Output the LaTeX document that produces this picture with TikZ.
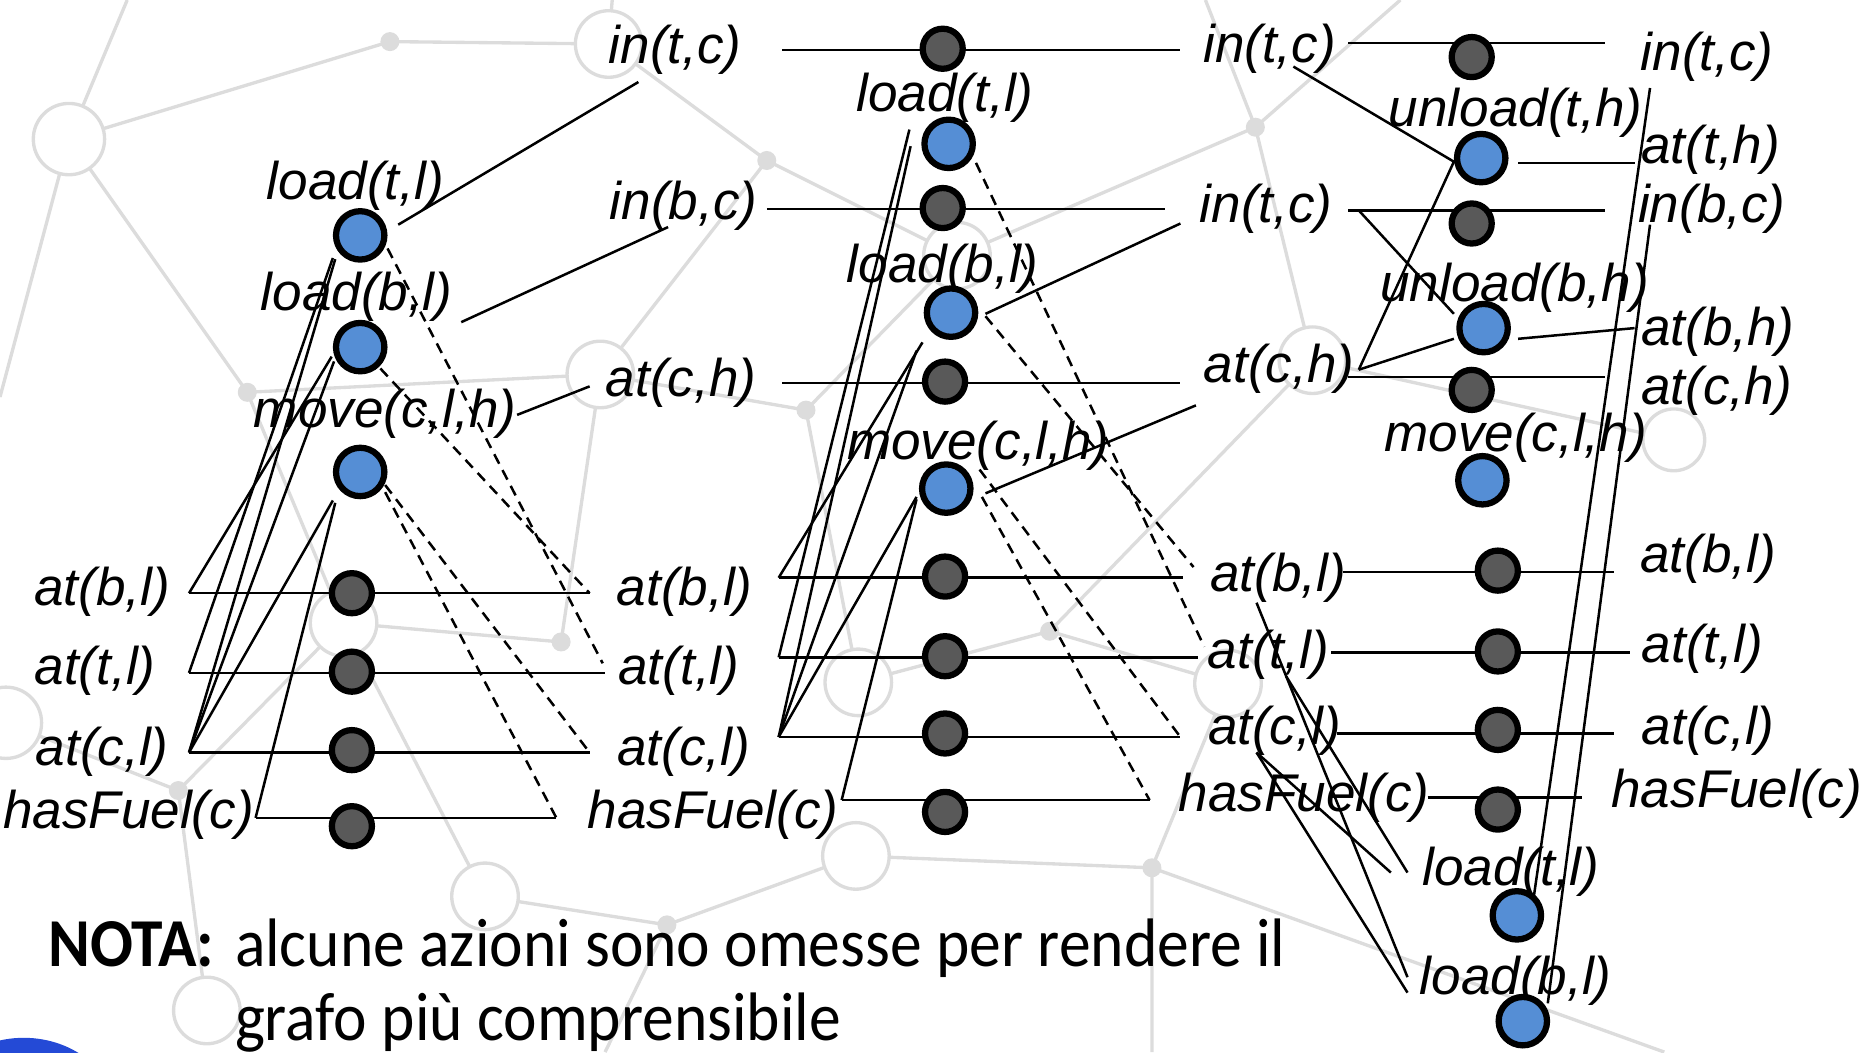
\documentclass[tikz,border=0pt]{standalone}
\usepackage{fontspec}
\setmainfont{Liberation Sans}
\newfontfamily\notefont{Carlito}
\usetikzlibrary{calc}

\pgfdeclarelayer{net}
\pgfdeclarelayer{wires}
\pgfsetlayers{net,wires,main}

\definecolor{actblue}{RGB}{85,142,213}
\definecolor{noopgray}{RGB}{89,89,89}
\definecolor{netgray}{RGB}{220,220,220}
\definecolor{blobblue}{RGB}{36,74,214}

\tikzset{
  lit/.style={font=\fontsize{12.7}{15}\selectfont\itshape, inner sep=0pt},
  act/.style={circle, draw=black, line width=1.5pt, fill=actblue, minimum size=4.07mm, inner sep=0pt},
  noop/.style={circle, draw=black, line width=1.5pt, fill=noopgray, minimum size=3.37mm, inner sep=0pt},
  wire/.style={line width=0.6pt},
  del/.style={wire, dash pattern=on 0.9mm off 0.6mm},
  netline/.style={draw=netgray, line width=0.8pt},
  netring/.style={draw=netgray, fill=white, line width=0.8pt},
  netdot/.style={fill=netgray},
  note/.style={font=\notefont\fontsize{15.2}{18}\selectfont, inner sep=0pt, anchor=base west},
}
\newcommand{\tallnote}[1]{\scalebox{1}[1.08]{#1}}

\begin{document}
\begin{tikzpicture}[x=0.1mm,y=-0.1mm]
\useasboundingbox (0,0) rectangle (1568,885);

% ---------------- faint network backdrop
\begin{pgfonlayer}{net}
\begin{scope}
\clip (0,0) rectangle (1568,885);
\coordinate (C1) at (58,117);   \coordinate (D1) at (328,35);
\coordinate (C2) at (512,37);   \coordinate (D2) at (645,135);
\coordinate (C3) at (505,315);  \coordinate (D3) at (208,330);
\coordinate (D4) at (678,345);  \coordinate (C4) at (5,608);
\coordinate (D5) at (150,665);  \coordinate (C5) at (289,524);
\coordinate (D6) at (472,540);  \coordinate (C6) at (408,754);
\coordinate (C6b) at (174,850); \coordinate (D7) at (561,778);
\coordinate (C7) at (720,720);  \coordinate (C8) at (722,574);
\coordinate (D8) at (969,730);  \coordinate (D9) at (883,531);
\coordinate (C9) at (1033,575); \coordinate (D10) at (1056,107);
\coordinate (C10) at (1104,303);\coordinate (C11) at (1408,370);
\coordinate (C13) at (805,215);
\draw[netline] (C1) -- (107,0) (C1) -- (D1) -- (C2) -- (515,0)
  (C2) -- (D2) -- (C3) (C1) -- (D3) (C1) -- (0,334) (D3) -- (C3)
  (D3) -- (C5) (C3) -- (D4) (C3) -- (D6) (C5) -- (D6) (C5) -- (D5)
  (D5) -- (C4) (D5) -- (C6b) (C6) -- (D7) -- (C7) (D7) -- (509,885)
  (D4) -- (C8) (D2) -- (C13) (D4) -- (C13) (C13) -- (D10)
  (D10) -- (1178,0) (D10) -- (1014,0) (D10) -- (C10) (C10) -- (D9)
  (D9) -- (C8) (D9) -- (C9) (C9) -- (D8) (D8) -- (969,885)
  (D8) -- (1400,885) (C7) -- (D8) (C10) -- (C11) (C6) -- (C5);
\foreach \c/\r in {C1/3.0,C2/2.8,C3/2.8,C4/3.0,C5/2.8,C6/2.8,C6b/2.8,C7/2.8,C8/2.8,C9/2.8,C10/2.8,C11/2.6,C13/2.8}
  \draw[netring] (\c) circle (\r mm);
\foreach \d in {D1,D2,D3,D4,D5,D6,D7,D8,D9,D10}
  \fill[netdot] (\d) circle (0.8mm);
\fill[blobblue] (20,943) ellipse [x radius=8mm, y radius=7mm];
\end{scope}
\end{pgfonlayer}

% ---------------- state layer S0
\node[lit] (s0ab) at (86,498) {at(b,l)};
\node[lit] (s0at) at (80,564) {at(t,l)};
\node[lit] (s0ac) at (86,632) {at(c,l)};
\node[lit] (s0hf) at (108,685) {hasFuel(c)};

% ---------------- action layer A0
\node[lit] (l0lt) at (299,156) {load(t,l)};
\node[act] (a0lt) at (303,198) {};
\node[lit] (l0lb) at (300,250) {load(b,l)};
\node[act] (a0lb) at (303,292) {};
\node[lit] (l0mv) at (324,348) {move(c,l,h)};
\node[act] (a0mv) at (303,397) {};
\node[noop] (n0ab) at (296,499) {};
\node[noop] (n0at) at (296,565) {};
\node[noop] (n0ac) at (296,631) {};
\node[noop] (n0hf) at (296,695) {};

% ---------------- state layer S1
\node[lit] (s1tc) at (568,42) {in(t,c)};
\node[lit] (s1bc) at (575,173) {in(b,c)};
\node[lit] (s1ch) at (573,322) {at(c,h)};
\node[lit] (s1ab) at (576,498) {at(b,l)};
\node[lit] (s1at) at (571,564) {at(t,l)};
\node[lit] (s1ac) at (575,632) {at(c,l)};
\node[lit] (s1hf) at (600,685) {hasFuel(c)};

% ---------------- action layer A1
\node[lit] (l1lt) at (795,82) {load(t,l)};
\node[act] (a1lt) at (798,121) {};
\node[lit] (l1lb) at (793,226) {load(b,l)};
\node[act] (a1lb) at (800,263) {};
\node[lit] (l1mv) at (823,375) {move(c,l,h)};
\node[act] (a1mv) at (796,411) {};
\node[noop] (n1tc) at (793,41) {};
\node[noop] (n1bc) at (793,175) {};
\node[noop] (n1ch) at (795,321) {};
\node[noop] (n1ab) at (795,485) {};
\node[noop] (n1at) at (795,552) {};
\node[noop] (n1ac) at (795,617) {};
\node[noop] (n1hf) at (795,683) {};

% ---------------- state layer S2
\node[lit] (s2tc) at (1068,41) {in(t,c)};
\node[lit] (s2tcb) at (1065,176) {in(t,c)};
\node[lit] (s2ch) at (1076,310) {at(c,h)};
\node[lit] (s2ab) at (1075,486) {at(b,l)};
\node[lit] (s2at) at (1067,551) {at(t,l)};
\node[lit] (s2ac) at (1072,615) {at(c,l)};
\node[lit] (s2hf) at (1097,671) {hasFuel(c)};

% ---------------- action layer A2
\node[lit] (l2ut) at (1275,95) {unload(t,h)};
\node[act] (a2ut) at (1246,133) {};
\node[lit] (l2ub) at (1274,242) {unload(b,h)};
\node[act] (a2ub) at (1248,276) {};
\node[lit] (l2mv) at (1275,368) {move(c,l,h)};
\node[act] (a2mv) at (1247,404) {};
\node[lit] (l2lt) at (1271,733) {load(t,l)};
\node[act] (a2lt) at (1276,770) {};
\node[lit] (l2lb) at (1275,825) {load(b,l)};
\node[act] (a2lb) at (1281,859) {};
\node[noop] (n2tc) at (1238,48) {};
\node[noop] (n2bc) at (1238,188) {};
\node[noop] (n2ch) at (1238,328) {};
\node[noop] (n2ab) at (1260,480) {};
\node[noop] (n2at) at (1260,548) {};
\node[noop] (n2ac) at (1260,614) {};
\node[noop] (n2hf) at (1260,681) {};

% ---------------- state layer S3
\node[lit] (s3tc) at (1436,48) {in(t,c)};
\node[lit] (s3th) at (1439,126) {at(t,h)};
\node[lit] (s3bc) at (1440,176) {in(b,c)};
\node[lit] (s3bh) at (1445,279) {at(b,h)};
\node[lit] (s3ch) at (1444,329) {at(c,h)};
\node[lit] (s3ab) at (1437,470) {at(b,l)};
\node[lit] (s3at) at (1432,546) {at(t,l)};
\node[lit] (s3ac) at (1437,615) {at(c,l)};
\node[lit] (s3hf) at (1461,668) {hasFuel(c)};

% ---------------- persistence line ends
\coordinate (k0ab) at (159,499); \coordinate (k1ab) at (496,499);
\coordinate (k0at) at (159,566); \coordinate (k1at) at (509,566);
\coordinate (k0ac) at (159,633); \coordinate (k1ac) at (496,633);
\coordinate (k0hf) at (215,688); \coordinate (k1hf) at (468,688);
\coordinate (d1at) at (507,558);

\coordinate (r1tc) at (658,42);  \coordinate (m2tc) at (993,42);
\coordinate (r1bc) at (645,176); \coordinate (m2bc) at (980,176);
\coordinate (r1ch) at (658,322); \coordinate (m2ch) at (993,322);
\coordinate (r1ab) at (655,486); \coordinate (m2ab) at (995,486);
\coordinate (r1at) at (655,553); \coordinate (m2at) at (1008,553);
\coordinate (r1ac) at (655,620); \coordinate (m2ac) at (993,620);
\coordinate (r1hf) at (708,673); \coordinate (m2hf) at (967,673);
\coordinate (d2ab) at (1004,477); \coordinate (d2at) at (1013,544);

\coordinate (r2tc) at (1134,36);  \coordinate (m3tc) at (1350,36);
\coordinate (r2bc) at (1134,177); \coordinate (m3bc) at (1350,177);
\coordinate (r2ch) at (1134,317); \coordinate (m3ch) at (1350,317);
\coordinate (r2ab) at (1130,481); \coordinate (m3ab) at (1358,481);
\coordinate (r2at) at (1120,549); \coordinate (m3at) at (1371,549);
\coordinate (r2ac) at (1125,617); \coordinate (m3ac) at (1358,617);
\coordinate (r2hf) at (1201,671); \coordinate (m3hf) at (1331,671);

\begin{pgfonlayer}{wires}
% persistence (no-op) lines
\draw[wire] (k0ab) -- (k1ab);  \draw[wire] (k0at) -- (k1at);
\draw[wire] (k0ac) -- (k1ac);  \draw[wire] (k0hf) -- (k1hf);
\draw[wire] (r1tc) -- (m2tc);  \draw[wire] (r1bc) -- (m2bc);
\draw[wire] (r1ch) -- (m2ch);  \draw[wire] (r1ab) -- (m2ab);
\draw[wire] (r1at) -- (m2at);  \draw[wire] (r1ac) -- (m2ac);
\draw[wire] (r1hf) -- (m2hf);
\draw[wire] (r2tc) -- (m3tc);  \draw[wire] (r2bc) -- (m3bc);
\draw[wire] (r2ch) -- (m3ch);  \draw[wire] (r2ab) -- (m3ab);
\draw[wire] (r2at) -- (m3at);  \draw[wire] (r2ac) -- (m3ac);
\draw[wire] (r2hf) -- (m3hf);

% A0: preconditions
\draw[wire] (k0at) -- ([shift={(-23,19)}]a0lt.center);
\draw[wire] (k0ac) -- ([shift={(-21,20)}]a0lt.center);
\draw[wire] (k0ab) -- ([shift={(-24,8)}]a0lb.center);
\draw[wire] (k0ac) -- ([shift={(-22,12)}]a0lb.center);
\draw[wire] (k0ac) -- ([shift={(-23,24)}]a0mv.center);
\draw[wire] (k0hf) -- ([shift={(-21,26)}]a0mv.center);
% A0: add effects
\draw[wire] ([shift={(32,-9)}]a0lt.center) -- ([shift={(-31,27)}]s1tc.center);
\draw[wire] ([shift={(88,21)}]l0lb.center) -- ([shift={(-13,18)}]s1bc.center);
\draw[wire] ([shift={(111,1)}]l0mv.center) -- ([shift={(-77,3)}]s1ch.center);
% A0: delete effects
\draw[del] ([shift={(23,11)}]a0lt.center) -- (d1at);
\draw[del] ([shift={(17,18)}]a0lb.center) -- (k1ab);
\draw[del] ([shift={(21,11)}]a0mv.center) -- (k1ac);
\draw[del] ([shift={(21,17)}]a0mv.center) -- (k1hf);

% A1: preconditions
\draw[wire] (r1at) -- ([shift={(-33,-12)}]a1lt.center);
\draw[wire] (r1ac) -- ([shift={(-32,2)}]a1lt.center);
\draw[wire] (r1ab) -- ([shift={(-24,25)}]a1lb.center);
\draw[wire] (r1ac) -- ([shift={(-29,32)}]a1lb.center);
\draw[wire] (r1ac) -- ([shift={(-25,7)}]a1mv.center);
\draw[wire] (r1hf) -- ([shift={(-25,9)}]a1mv.center);
% A1: add effects
\draw[wire] ([shift={(29,1)}]a1lb.center) -- ([shift={(-72,12)}]s2tcb.center);
\draw[wire] ([shift={(33,4)}]a1mv.center) -- ([shift={(-70,31)}]s2ch.center);
% A1: delete effects
\draw[del] ([shift={(23,16)}]a1lt.center) -- (d2at);
\draw[del] ([shift={(29,3)}]a1lb.center) -- (d2ab);
\draw[del] ([shift={(28,-16)}]a1mv.center) -- (m2ac);
\draw[del] ([shift={(30,7)}]a1mv.center) -- (m2hf);

% A2: preconditions
\draw[wire] ([shift={(20,15)}]s2tc.center) -- ([shift={(-23,3)}]a2ut.center);
\draw[wire] ([shift={(67,1)}]s2ch.center) -- ([shift={(-23,3)}]a2ut.center);
\draw[wire] ([shift={(78,1)}]s2tcb.center) -- ([shift={(-25,-12)}]a2ub.center);
\draw[wire] ([shift={(67,1)}]s2ch.center) -- ([shift={(-25,9)}]a2ub.center);
\draw[wire] ([shift={(15,18)}]s2at.center) -- ([shift={(-87,1)}]l2lt.center);
\draw[wire] ([shift={(-15,18)}]s2ac.center) -- ([shift={(-101,1)}]l2lt.center);
\draw[wire] ([shift={(-18,21)}]s2ab.center) -- ([shift={(-91,-3)}]l2lb.center);
\draw[wire] ([shift={(-15,18)}]s2ac.center) -- ([shift={(-91,10)}]l2lb.center);
% A2: add effects
\draw[wire] ([shift={(31,4)}]a2ut.center) -- ([shift={(-64,11)}]s3th.center);
\draw[wire] ([shift={(29,9)}]a2ub.center) -- ([shift={(-70,-3)}]s3bh.center);
\draw[wire] ([shift={(13,-7)}]a2lt.center) -- ([shift={(-48,26)}]s3tc.center);
\draw[wire] ([shift={(21,-15)}]a2lb.center) -- ([shift={(-52,13)}]s3bc.center);
\end{pgfonlayer}

% ---------------- note
\node[note] (nota) at (40,813) {\tallnote{\bfseries NOTA:}};
\node[note] (notea) at (197,813) {\tallnote{alcune azioni sono omesse per rendere il}};
\node[note] (noteb) at (197,875) {\tallnote{grafo più comprensibile}};
\end{tikzpicture}
\end{document}
